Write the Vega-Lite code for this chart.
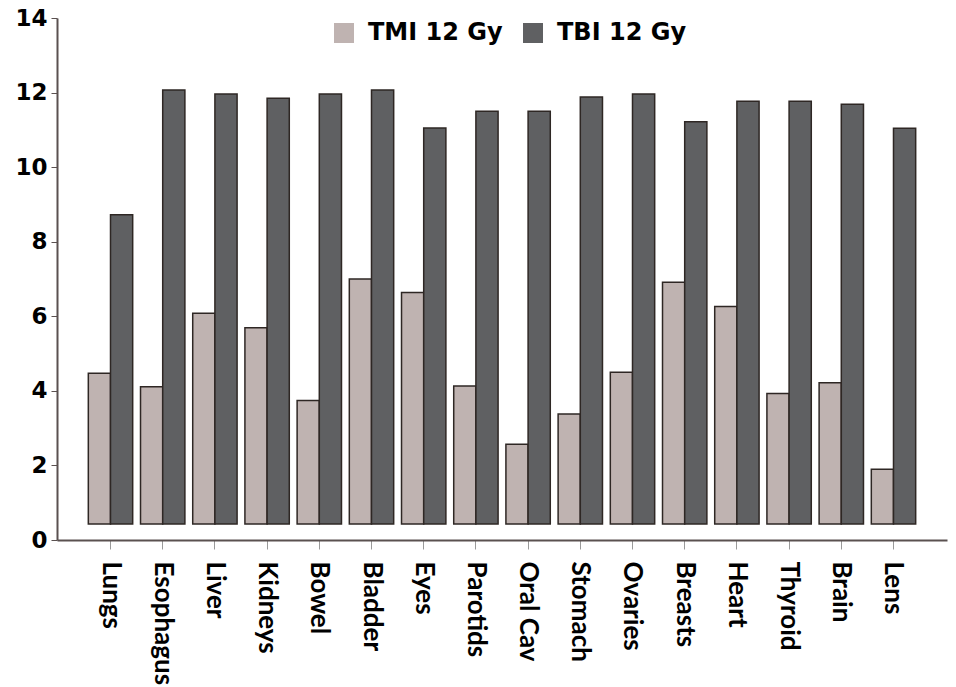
{
  "$schema": "https://vega.github.io/schema/vega-lite/v6.json",
  "autosize": {"type": "none"},
  "width": 890,
  "height": 522,
  "padding": {"left": 57, "top": 18, "right": 9, "bottom": 147},
  "background": "white",
  "data": {
    "values": [
      {"organ": "Lungs", "plan": "TMI 12 Gy", "dose": 4.47},
      {"organ": "Lungs", "plan": "TBI 12 Gy", "dose": 8.72},
      {"organ": "Esophagus", "plan": "TMI 12 Gy", "dose": 4.11},
      {"organ": "Esophagus", "plan": "TBI 12 Gy", "dose": 12.07},
      {"organ": "Liver", "plan": "TMI 12 Gy", "dose": 6.08},
      {"organ": "Liver", "plan": "TBI 12 Gy", "dose": 11.96},
      {"organ": "Kidneys", "plan": "TMI 12 Gy", "dose": 5.69},
      {"organ": "Kidneys", "plan": "TBI 12 Gy", "dose": 11.85},
      {"organ": "Bowel", "plan": "TMI 12 Gy", "dose": 3.74},
      {"organ": "Bowel", "plan": "TBI 12 Gy", "dose": 11.96},
      {"organ": "Bladder", "plan": "TMI 12 Gy", "dose": 7.0},
      {"organ": "Bladder", "plan": "TBI 12 Gy", "dose": 12.07},
      {"organ": "Eyes", "plan": "TMI 12 Gy", "dose": 6.64},
      {"organ": "Eyes", "plan": "TBI 12 Gy", "dose": 11.05},
      {"organ": "Parotids", "plan": "TMI 12 Gy", "dose": 4.13},
      {"organ": "Parotids", "plan": "TBI 12 Gy", "dose": 11.5},
      {"organ": "Oral Cav", "plan": "TMI 12 Gy", "dose": 2.57},
      {"organ": "Oral Cav", "plan": "TBI 12 Gy", "dose": 11.5},
      {"organ": "Stomach", "plan": "TMI 12 Gy", "dose": 3.38},
      {"organ": "Stomach", "plan": "TBI 12 Gy", "dose": 11.88},
      {"organ": "Ovaries", "plan": "TMI 12 Gy", "dose": 4.5},
      {"organ": "Ovaries", "plan": "TBI 12 Gy", "dose": 11.96},
      {"organ": "Breasts", "plan": "TMI 12 Gy", "dose": 6.91},
      {"organ": "Breasts", "plan": "TBI 12 Gy", "dose": 11.22},
      {"organ": "Heart", "plan": "TMI 12 Gy", "dose": 6.26},
      {"organ": "Heart", "plan": "TBI 12 Gy", "dose": 11.77},
      {"organ": "Thyroid", "plan": "TMI 12 Gy", "dose": 3.93},
      {"organ": "Thyroid", "plan": "TBI 12 Gy", "dose": 11.77},
      {"organ": "Brain", "plan": "TMI 12 Gy", "dose": 4.22},
      {"organ": "Brain", "plan": "TBI 12 Gy", "dose": 11.69},
      {"organ": "Lens", "plan": "TMI 12 Gy", "dose": 1.9},
      {"organ": "Lens", "plan": "TBI 12 Gy", "dose": 11.04}
    ]
  },
  "mark": {"type": "bar", "stroke": "#2e2724", "strokeWidth": 1.5},
  "encoding": {
    "x": {
      "field": "organ",
      "type": "nominal",
      "sort": null,
      "scale": {"paddingInner": 0.15, "paddingOuter": 0.6},
      "axis": {
        "title": null,
        "labelAngle": 90,
        "labelAlign": "left",
        "labelBaseline": "middle",
        "labelFont": "Lato",
        "labelFontWeight": "bold",
        "labelFontSize": 26,
        "labelColor": "#000000",
        "labelPadding": 12,
        "tickSize": 9,
        "tickColor": "#9a9a9a",
        "tickWidth": 1,
        "domainColor": "#5a5150",
        "domainWidth": 2
      }
    },
    "xOffset": {"field": "plan", "type": "nominal", "sort": ["TMI 12 Gy", "TBI 12 Gy"]},
    "y": {
      "field": "dose",
      "type": "quantitative",
      "scale": {"domain": [0, 14], "nice": false},
      "axis": {
        "title": null,
        "values": [0, 2, 4, 6, 8, 10, 12, 14],
        "grid": false,
        "labelFont": "DejaVu Sans",
        "labelFontWeight": "bold",
        "labelFontSize": 23,
        "labelColor": "#000000",
        "labelPadding": 4,
        "tickSize": 6,
        "tickColor": "#5a5150",
        "domainColor": "#5a5150",
        "domainWidth": 2
      }
    },
    "y2": {"datum": 0.43},
    "color": {
      "field": "plan",
      "type": "nominal",
      "sort": ["TMI 12 Gy", "TBI 12 Gy"],
      "scale": {"domain": ["TMI 12 Gy", "TBI 12 Gy"], "range": ["#bfb3b1", "#5f6062"]},
      "legend": {
        "title": null,
        "orient": "none",
        "direction": "horizontal",
        "legendX": 275,
        "legendY": 3,
        "symbolType": "square",
        "symbolSize": 400,
        "symbolStrokeWidth": 0,
        "labelFont": "DejaVu Sans",
        "labelFontWeight": "bold",
        "labelFontSize": 24,
        "labelColor": "#000000",
        "labelOffset": 12,
        "columnPadding": 18,
        "labelLimit": 300
      }
    }
  },
  "config": {"view": {"stroke": null}}
}
